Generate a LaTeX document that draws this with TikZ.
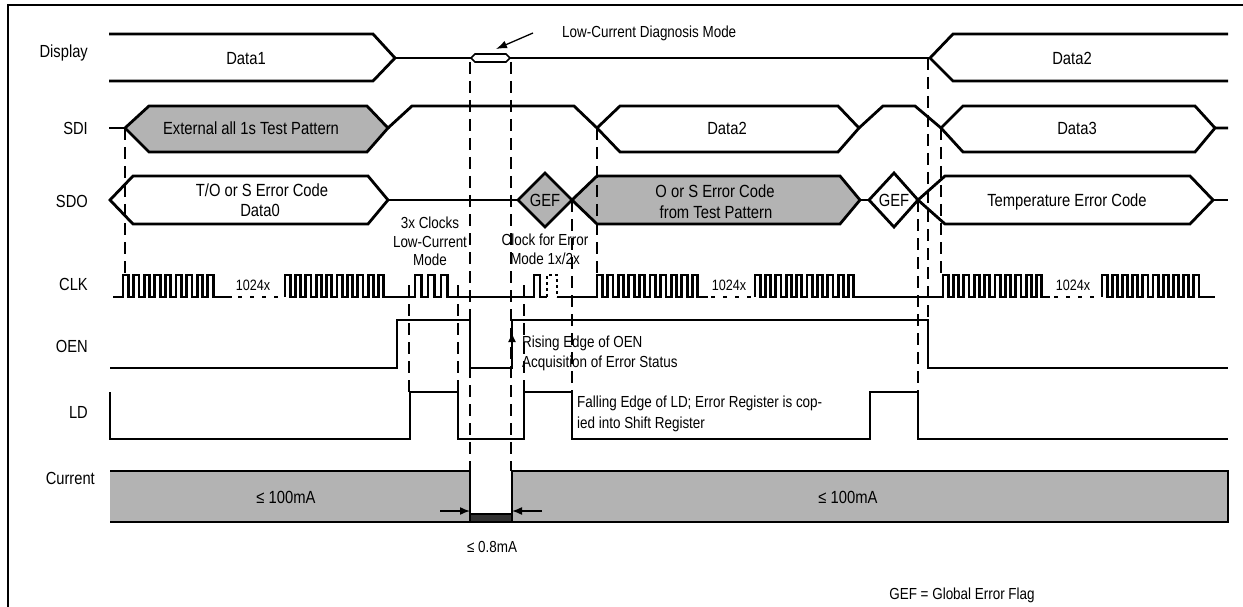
\documentclass[tikz,border=0pt]{standalone}
\usepackage{fontspec}
\setmainfont{Liberation Sans}[FakeStretch=0.84]
\usetikzlibrary{arrows.meta}
\definecolor{busgray}{RGB}{179,179,179}
\definecolor{darkband}{RGB}{50,50,50}
\begin{document}
\begin{tikzpicture}[x=1pt,y=-1pt,
  sig/.style={line width=2.8pt},
  dsh/.style={line width=2.2pt, dash pattern=on 12pt off 7pt},
  dotl/.style={line width=2.8pt, dash pattern=on 4pt off 8pt},
  dotp/.style={line width=2pt, dash pattern=on 3pt off 3pt},
  lbl/.style={font=\fontsize{17.5}{20}\selectfont, inner sep=0pt, text height=12.5pt, text depth=0pt, anchor=east},
  bt/.style={font=\fontsize{17.6}{20}\selectfont, inner sep=0pt, text height=12.6pt, text depth=0pt},
  ann/.style={font=\fontsize{16}{19}\selectfont, inner sep=0pt, text height=11.5pt, text depth=0pt},
  sm/.style={font=\fontsize{15}{18}\selectfont, inner sep=0pt, text height=10.7pt, text depth=0pt},
]
\useasboundingbox (0,0) rectangle (1243,607);
% frame
\draw[line width=2pt] (8,607) -- (8,5) -- (1243,5);

% ---------------- Display
\draw[sig] (109,34) -- (373,34) -- (395,58) -- (373,81) -- (109,81);
\draw[sig] (395,58) -- (471,58);
\draw[sig] (510,58) -- (930,58);
\draw[line width=1.6pt, fill=white] (471,58) -- (475,54) -- (506,54) -- (510,58) -- (506,62) -- (475,62) -- cycle;
\draw[sig] (1228,34) -- (953,34) -- (930,58) -- (953,81) -- (1228,81);

% ---------------- SDI
\draw[sig] (109,128) -- (125,128);
\draw[sig, fill=busgray] (125,128) -- (149,106) -- (367,106) -- (388,128) -- (367,152) -- (149,152) -- cycle;
\draw[sig] (388,128) -- (412,106) -- (574,106) -- (597,128) -- (620,152) -- (838,152) -- (859,128) -- (883,106) -- (915,106) -- (941,128) -- (963,152) -- (1195,152) -- (1215,128) -- (1228,128);
\draw[sig] (597,128) -- (620,106) -- (838,106) -- (859,128);
\draw[sig] (941,128) -- (963,106) -- (1195,106) -- (1215,128);

% ---------------- SDO
\draw[sig] (110,200) -- (133,176) -- (368,176) -- (388,200) -- (368,224) -- (133,224) -- cycle;
\draw[sig] (388,200) -- (518,200);
\draw[sig, fill=busgray] (518,200) -- (545,173) -- (572,200) -- (545,227) -- cycle;
\draw[sig, fill=busgray] (572,200) -- (597,176) -- (840,176) -- (860,200) -- (840,224) -- (597,224) -- cycle;
\draw[sig] (860,200) -- (869,200);
\draw[sig] (869,200) -- (894,173) -- (918,200) -- (894,227) -- cycle;
\draw[sig] (918,200) -- (945,176) -- (1190,176) -- (1213,200) -- (1190,224) -- (945,224) -- cycle;
\draw[sig] (1213,200) -- (1228,200);

% ---------------- CLK
\draw[sig] (113,297) -- (123,297)
  \foreach \i in {1,...,9}{ -- ++(0,-22) -- ++(5.3,0) -- ++(0,22) -- ++(5.3,0) }
  -- (232,297);
\draw[dotl] (238,297) -- (282,297);
\draw[sig] (285,297)
  \foreach \i in {1,...,10}{ -- ++(0,-22) -- ++(5.2,0) -- ++(0,22) -- ++(5.2,0) }
  -- (415,297)
  \foreach \i in {1,2,3}{ -- ++(0,-22) -- ++(6.5,0) -- ++(0,22) -- ++(6.5,0) }
  -- (534,297) -- (534,275) -- (540,275) -- (540,297) -- (547,297);
\draw[dotp] (547,297) -- (547,275) -- (557,275) -- (557,297);
\draw[sig] (557,297) -- (597,297)
  \foreach \i in {1,...,10}{ -- ++(0,-22) -- ++(5.3,0) -- ++(0,22) -- ++(5.3,0) }
  -- (708,297);
\draw[dotl] (711,297) -- (752,297);
\draw[sig] (755,297)
  \foreach \i in {1,...,10}{ -- ++(0,-22) -- ++(5.2,0) -- ++(0,22) -- ++(5.2,0) }
  -- (943,297)
  \foreach \i in {1,...,10}{ -- ++(0,-22) -- ++(5.2,0) -- ++(0,22) -- ++(5.2,0) }
  -- (1050,297);
\draw[dotl] (1054,297) -- (1098,297);
\draw[sig] (1102,297)
  \foreach \i in {1,...,10}{ -- ++(0,-22) -- ++(5.1,0) -- ++(0,22) -- ++(5.1,0) }
  -- (1215,297);

% ---------------- OEN
\draw[sig] (110,368) -- (397,368) -- (397,320) -- (470,320) -- (470,368) -- (512,368) -- (512,320) -- (928,320) -- (928,368) -- (1228,368);
\coordinate (oenA) at (512,352);
\coordinate (oenB) at (512,333);
\draw[line width=1pt, -{Latex[length=9pt,width=8pt]}] (oenA) -- (oenB);

% ---------------- LD
\draw[sig] (110,392) -- (110,439) -- (410,439) -- (410,392) -- (458,392) -- (458,439) -- (524,439) -- (524,392) -- (572,392) -- (572,439) -- (870,439) -- (870,392) -- (918,392) -- (918,439) -- (1228,439);

% ---------------- Current
\fill[busgray] (110,471) rectangle (470,522);
\fill[busgray] (512,471) rectangle (1228,522);
\draw[sig, fill=darkband] (470,514) rectangle (512,522);
\draw[sig] (110,471) -- (470,471) -- (470,514);
\draw[sig] (512,514) -- (512,471) -- (1228,471) -- (1228,522) -- (110,522);
\coordinate (arL) at (440,511);
\coordinate (arLe) at (470,511);
\coordinate (arR) at (542,511);
\coordinate (arRe) at (512,511);
\draw[line width=1.5pt, -{Latex[length=10pt,width=8pt]}] (arL) -- (arLe);
\draw[line width=1.5pt, -{Latex[length=10pt,width=8pt]}] (arR) -- (arRe);

% ---------------- dashed guides
\draw[dsh] (125,128) -- (125,275);
\draw[dsh] (470,62) -- (470,471);
\draw[dsh] (511,62) -- (511,471);
\draw[dsh] (409,285) -- (409,392);
\draw[dsh] (458,285) -- (458,392);
\draw[dsh] (524,285) -- (524,392);
\draw[dsh] (572,200) -- (572,392);
\draw[dsh] (597,128) -- (597,275);
\draw[dsh] (918,200) -- (918,392);
\draw[dsh] (928,58) -- (928,320);
\draw[dsh] (941,128) -- (941,275);

% ---------------- signal labels
\node[lbl] (lDisp) at (88,51) {Display};
\node[lbl] (lSDI) at (88,128) {SDI};
\node[lbl] (lSDO) at (88,201) {SDO};
\node[lbl] (lCLK) at (88,284) {CLK};
\node[lbl] (lOEN) at (88,346) {OEN};
\node[lbl] (lLD) at (88,412) {LD};
\node[lbl] (lCur) at (95,478) {Current};

% ---------------- bus texts
\node[bt] (tD1) at (246,58) {Data1};
\node[bt] (tD2) at (1072,58) {Data2};
\node[bt] (tExt) at (251,128) {External all 1s Test Pattern};
\node[bt] (tSD2) at (727,128) {Data2};
\node[bt] (tSD3) at (1077,128) {Data3};
\node[bt] (tTO) at (262,190) {T/O or S Error Code};
\node[bt] (tD0) at (260,210) {Data0};
\node[bt] (tG1) at (545,200) {GEF};
\node[bt] (tOS) at (715,191) {O or S Error Code};
\node[bt] (tFT) at (716,212) {from Test Pattern};
\node[bt] (tG2) at (894,200) {GEF};
\node[bt] (tTemp) at (1067,200) {Temperature Error Code};

% ---------------- annotations
\node[ann, anchor=west] (tLCDM) at (562,32) {Low-Current Diagnosis Mode};
\coordinate (lcA) at (533,33);
\coordinate (lcB) at (496,49);
\draw[line width=1.3pt, -{Latex[length=11pt,width=8pt]}] (lcA) -- (lcB);
\node[ann] (t3x1) at (430,223) {3x Clocks};
\node[ann] (t3x2) at (430,242) {Low-Current};
\node[ann] (t3x3) at (430,260) {Mode};
\node[ann] (tCE1) at (545,240) {Clock for Error};
\node[ann] (tCE2) at (545,259) {Mode 1x/2x};
\node[sm] (t1024a) at (253,285) {1024x};
\node[sm] (t1024b) at (729,285) {1024x};
\node[sm] (t1024c) at (1073,285) {1024x};
\node[ann, anchor=west] (tRE1) at (522,342) {Rising Edge of OEN};
\node[ann, anchor=west] (tRE2) at (522,362) {Acquisition of Error Status};
\node[ann, anchor=west] (tFE1) at (577,402) {Falling Edge of LD; Error Register is cop-};
\node[ann, anchor=west] (tFE2) at (577,423) {ied into Shift Register};
\node[bt] (tC1) at (286,497) {≤ 100mA};
\node[bt] (tC2) at (848,497) {≤ 100mA};
\node[ann] (tC3) at (492,547) {≤ 0.8mA};
\node[ann] (tGEF) at (962,594) {GEF = Global Error Flag};
\end{tikzpicture}
\end{document}
